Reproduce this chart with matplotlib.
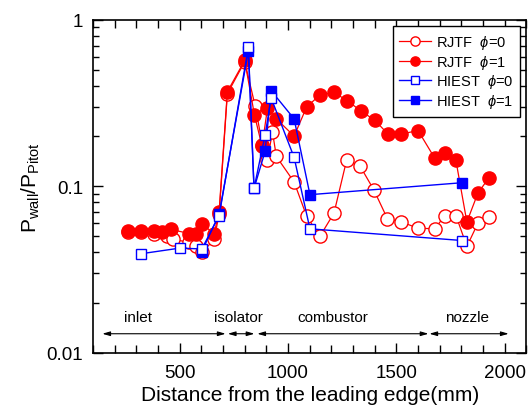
import matplotlib
matplotlib.use("Agg")
import matplotlib.pyplot as plt
from matplotlib.ticker import FixedLocator, FuncFormatter, LogLocator, MultipleLocator, NullFormatter

plt.rcParams["font.family"] = ["Liberation Sans", "DejaVu Sans"]
plt.rcParams["mathtext.fontset"] = "custom"
plt.rcParams["mathtext.rm"] = "Liberation Sans"
plt.rcParams["mathtext.it"] = "Liberation Sans:italic"

# RJTF, phi = 0 (open circles)
rjtf0_x = [263, 323, 383, 440, 470, 544, 576, 604, 659, 682, 720, 800, 848, 882, 905,
           928, 946, 1028, 1086, 1147, 1212, 1270, 1331, 1396, 1458, 1522, 1600, 1676,
           1722, 1776, 1825, 1876, 1926]
rjtf0_y = [0.053, 0.053, 0.052, 0.050, 0.048, 0.046, 0.044, 0.040, 0.048, 0.068, 0.36,
           0.56, 0.305, 0.177, 0.143, 0.213, 0.151, 0.106, 0.066, 0.050, 0.069, 0.143,
           0.133, 0.095, 0.064, 0.061, 0.056, 0.0555, 0.066, 0.066, 0.0435, 0.060, 0.065]

# RJTF, phi = 1 (filled circles)
rjtf1_x = [263, 323, 383, 419, 461, 544, 576, 604, 659, 682, 720, 800, 845, 880, 905,
           946, 1028, 1086, 1147, 1211, 1273, 1338, 1399, 1461, 1522, 1600, 1676, 1725,
           1774, 1825, 1876, 1926]
rjtf1_y = [0.054, 0.054, 0.0535, 0.053, 0.055, 0.052, 0.052, 0.059, 0.052, 0.0705, 0.37,
           0.57, 0.268, 0.174, 0.294, 0.254, 0.20, 0.30, 0.353, 0.366, 0.327, 0.282,
           0.25, 0.206, 0.206, 0.216, 0.148, 0.158, 0.144, 0.061, 0.091, 0.112]

# HIEST, phi = 0 (open squares)
hiest0_x = [321, 501, 602, 682, 817, 843, 894, 922, 1028, 1101, 1803]
hiest0_y = [0.0393, 0.0425, 0.042, 0.0666, 0.682, 0.097, 0.203, 0.339, 0.149, 0.0555, 0.0472]

# HIEST, phi = 1 (filled squares)
hiest1_x = [602, 682, 817, 843, 894, 922, 1028, 1101, 1803]
hiest1_y = [0.0405, 0.068, 0.65, 0.097, 0.162, 0.375, 0.254, 0.089, 0.105]

# engine sections: label, start, end (mm)
sections = ["inlet", "isolator", "combustor", "nozzle"]
section_start = [143, 722, 858, 1652]
section_end = [712, 845, 1648, 2018]
section_text_x = [309, 770, 1208, 1826]

RED = "#ff0000"
BLUE = "#0000ff"

fig = plt.figure(figsize=(5.28, 4.10), dpi=100)
ax = fig.add_axes([0.1761, 0.1373, 0.821, 0.812])

ax.plot(rjtf0_x, rjtf0_y, "-o", color=RED, lw=0.9, ms=9.5, mfc="white", mec=RED, mew=1.0,
        label="RJTF  $\\phi$=0", zorder=3)
ax.plot(rjtf1_x, rjtf1_y, "-o", color=RED, lw=0.9, ms=9.5, mfc=RED, mec=RED, mew=1.0,
        label="RJTF  $\\phi$=1", zorder=3)
ax.plot(hiest1_x, hiest1_y, "-s", color=BLUE, lw=1.0, ms=7.5, mfc=BLUE, mec=BLUE, mew=1.0,
        label="HIEST  $\\phi$=1", zorder=4)
ax.plot(hiest0_x, hiest0_y, "-s", color=BLUE, lw=1.0, ms=7.5, mfc="white", mec=BLUE, mew=1.0,
        label="HIEST  $\\phi$=0", zorder=5)

for name, x0, x1, xt in zip(sections, section_start, section_end, section_text_x):
    ax.annotate("", xy=(x0, 0.013), xytext=(x1, 0.013),
                arrowprops=dict(arrowstyle="<|-|>,head_length=0.45,head_width=0.13",
                                color="black", lw=0.8, shrinkA=0, shrinkB=0))
    ax.text(xt, 0.0165, name, ha="center", va="center", fontsize=11)

ax.set_yscale("log")
ax.set_xlim(100, 2100)
ax.set_ylim(0.01, 1)
ax.xaxis.set_major_locator(FixedLocator([500, 1000, 1500, 2000]))
ax.xaxis.set_minor_locator(MultipleLocator(100))
ax.yaxis.set_major_locator(FixedLocator([0.01, 0.1, 1]))
ax.yaxis.set_minor_locator(LogLocator(base=10, subs=range(2, 10)))
ax.yaxis.set_minor_formatter(NullFormatter())
ax.yaxis.set_major_formatter(FuncFormatter(lambda v, p: f"{v:g}"))

ax.tick_params(which="both", direction="in", top=True, right=True, width=1.0,
               labelsize=13.5)
ax.tick_params(axis="x", which="major", pad=8)
ax.tick_params(axis="y", which="major", pad=7)
ax.tick_params(which="major", length=7)
ax.tick_params(axis="x", which="minor", length=6)
ax.tick_params(axis="y", which="minor", length=4)
for s in ax.spines.values():
    s.set_linewidth(1.2)

ax.set_xlabel("Distance from the leading edge(mm)", fontsize=15, labelpad=3)
ax.set_ylabel("$\\mathregular{P_{wall}/P_{Pitot}}$", fontsize=15, labelpad=3)

handles, labels = ax.get_legend_handles_labels()
order = [0, 1, 3, 2]
leg = ax.legend([handles[i] for i in order], [labels[i] for i in order],
                loc="upper right", fontsize=10.5, markerscale=0.7, handlelength=2.2,
                labelspacing=0.12, borderaxespad=0.45, fancybox=False, framealpha=1,
                edgecolor="black", handletextpad=0.3, borderpad=0.45)
leg.get_frame().set_linewidth(1.0)

fig.savefig("out.png", dpi=100)
